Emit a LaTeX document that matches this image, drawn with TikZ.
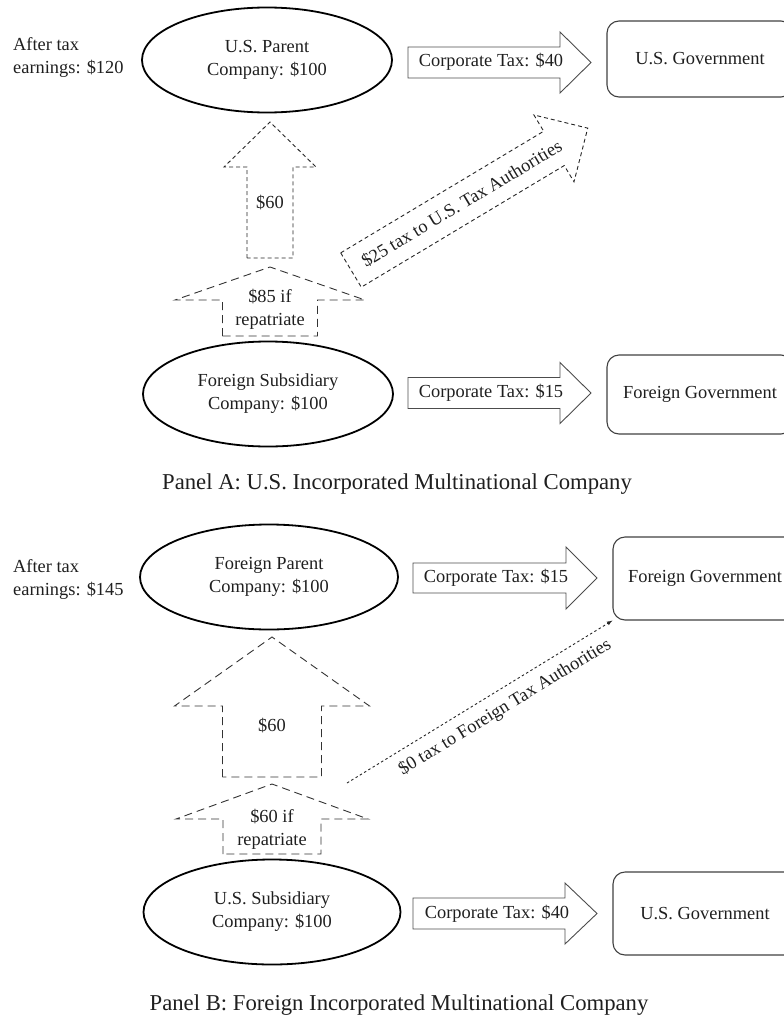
\documentclass[tikz,border=0pt]{standalone}
\usepackage{fontspec}
\setmainfont{Liberation Serif}
\usetikzlibrary{shapes.geometric}

% block arrow: [style]{tail}{angle}{length}{half shaft}{half head}{head length}
\newcommand{\blockarrow}[7][]{%
  \begin{scope}[shift={#2},rotate=#3]
    \draw[#1] (0,-#5) -- (#4-#7,-#5) -- (#4-#7,-#6) -- (#4,0)
      -- (#4-#7,#6) -- (#4-#7,#5) -- (0,#5) -- cycle;
  \end{scope}}

\begin{document}
\begin{tikzpicture}
  [
   x=1pt, y=-1pt,
   every node/.style={font=\fontsize{18.4}{23}\selectfont, text=black!88},
   co/.style={ellipse,draw=black,line width=1.8pt,minimum width=250pt,minimum height=105pt,inner sep=0pt,align=center},
   gov/.style={rectangle,draw=black!75,line width=1.1pt,rounded corners=12pt,minimum width=186pt,minimum height=78pt},
   lbl/.style={inner sep=0pt,align=center},
   panelcap/.style={inner sep=0pt,font=\fontsize{22.7}{28}\selectfont},
   tax/.style={draw=black!70,line width=0.9pt},
   fine/.style={draw=black!85,line width=0.9pt,dash pattern=on 4pt off 3pt},
   wide/.style={draw=black!80,line width=0.9pt,dash pattern=on 8pt off 5pt},
   dots/.style={draw=black!85,line width=0.9pt,dash pattern=on 2.5pt off 2.5pt}
  ]
  \useasboundingbox (0,0) rectangle (784,1017);

  % Panel A
  \node[co] (pA) at (267,60) {U.S. Parent\\Company: \$100};
  \node[co] (sA) at (268,394) {Foreign Subsidiary\\Company: \$100};
  \node[gov,minimum height=76pt] (gA) at (700,59) {U.S. Government};
  \node[gov,minimum height=79pt] (fA) at (700,394.5) {Foreign Government};
  \node[lbl,align=left,anchor=west] (atA) at (13,58) {After tax\\earnings: \$120};

  \blockarrow[tax]{(408,62.5)}{0}{183}{15.5}{30.5}{31}
  \blockarrow[tax]{(408,393)}{0}{183}{15.5}{30.5}{31}
  \blockarrow[fine]{(270,258)}{90}{136}{23}{46}{45}
  \blockarrow[wide]{(270,336)}{90}{69}{47.5}{95}{33}
  \blockarrow[fine]{(351,270)}{30.93}{276}{20}{39}{39.4}

  \node[lbl] (l40A) at (491,62) {Corporate Tax: \$40};
  \node[lbl] (l15A) at (491,393) {Corporate Tax: \$15};
  \node[lbl] (l60A) at (270,203) {\$60};
  \node[lbl] (l85A) at (270,309) {\$85 if\\repatriate};
  \node[lbl,rotate=30.93] (l25A) at (461.7,203.7) {\$25 tax to U.S. Tax Authorities};

  \node[panelcap] (capA) at (397,484) {Panel A: U.S. Incorporated Multinational Company};

  % Panel B
  \node[co,minimum width=258pt] (pB) at (269,577) {Foreign Parent\\Company: \$100};
  \node[co,minimum width=257pt] (sB) at (272,912) {U.S. Subsidiary\\Company: \$100};
  \node[gov,minimum width=184pt,minimum height=83pt] (fB) at (705,578.5) {Foreign Government};
  \node[gov,minimum width=184pt,minimum height=83pt] (gB) at (705,913.5) {U.S. Government};
  \node[lbl,align=left,anchor=west] (atB) at (13,579) {After tax\\earnings: \$145};

  \blockarrow[tax]{(413,578)}{0}{184}{15}{31}{31}
  \blockarrow[tax]{(413,913.5)}{0}{184}{15.5}{30.5}{32}
  \blockarrow[wide]{(272,777)}{90}{140}{49.5}{97.5}{69}
  \blockarrow[wide]{(272,854)}{90}{70}{49}{96}{35}

  \node[lbl] (l15B) at (496,578) {Corporate Tax: \$15};
  \node[lbl] (l40B) at (497,914) {Corporate Tax: \$40};
  \node[lbl] (l60B) at (272,726) {\$60};
  \node[lbl] (l60Br) at (272,829) {\$60 if\\repatriate};

  \coordinate (z0) at (347,783);
  \draw[dots,-latex] (z0) -- (fB.south west)
    node[pos=0.56,sloped,below,inner sep=9pt] (l0B) {\$0 tax to Foreign Tax Authorities};

  \node[panelcap] (capB) at (399,1005) {Panel B: Foreign Incorporated Multinational Company};
\end{tikzpicture}
\end{document}
